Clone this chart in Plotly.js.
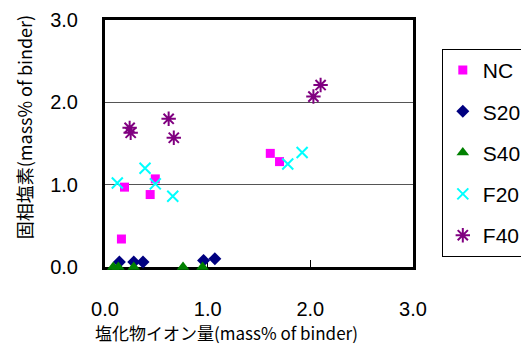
<!DOCTYPE html>
<html><head><meta charset="utf-8">
<script src="https://cdn.plot.ly/plotly-3.0.1.min.js"></script>
<style>html,body{margin:0;padding:0;background:#fff}</style>
</head><body><div id="chart" style="width:521px;height:349px"></div>
<script>
const seriesNames = ["NC", "S20", "S40", "F20", "F40"];
const ncX = [0.16, 0.19, 0.44, 0.49, 1.61, 1.70];
const ncY = [0.34, 0.97, 0.88, 1.07, 1.38, 1.28];
const s20X = [0.14, 0.28, 0.37, 0.96, 1.07];
const s20Y = [0.06, 0.06, 0.06, 0.08, 0.10];
const s40X = [0.08, 0.13, 0.28, 0.76, 0.95];
const s40Y = [0.0, 0.0, 0.0, 0.0, 0.0];
const f20X = [0.12, 0.39, 0.49, 0.66, 1.78, 1.92];
const f20Y = [1.02, 1.20, 1.01, 0.86, 1.25, 1.39];
const f40X = [0.24, 0.25, 0.62, 0.67, 2.03, 2.10];
const f40Y = [1.69, 1.63, 1.80, 1.57, 2.07, 2.21];
const tickVals = [0, 1, 2, 3];
const tickText = ["0.0", "1.0", "2.0", "3.0"];
const xTitle = "塩化物イオン量(mass% of binder)";
const yTitle = "固相塩素(mass% of binder)";

const xs = [ncX, s20X, s40X, f20X, f40X];
const ys = [ncY, s20Y, s40Y, f20Y, f40Y];
const styles = [
  {symbol: "square", color: "#FF00FF", size: 9},
  {symbol: "diamond", color: "#000080", size: 10},
  {symbol: "triangle-up", color: "#008000", size: 11},
  {symbol: "x-thin-open", color: "#00FFFF", size: 11, line: {width: 2, color: "#00FFFF"}},
  {symbol: "asterisk-open", color: "#800080", size: 12, line: {width: 2, color: "#800080"}}
];
const traces = seriesNames.map((n, i) => ({
  type: "scatter", mode: "markers", name: n, x: xs[i], y: ys[i],
  legendgroup: n, cliponaxis: false,
  marker: Object.assign({}, styles[i])
}));

const cjk = "'Noto Sans CJK JP', sans-serif";
const layout = {
  width: 521, height: 349,
  margin: {l: 105, r: 108, t: 20, b: 82},
  paper_bgcolor: "#fff", plot_bgcolor: "#fff",
  font: {family: "'Liberation Sans', Arial, sans-serif", size: 20, color: "#000"},
  showlegend: true,
  legend: {xref: "container", yref: "container", x: 0.848, xanchor: "left", y: 0.860, yanchor: "top",
    bordercolor: "#000", borderwidth: 1, bgcolor: "#fff", maxheight: 320,
    font: {size: 21}, tracegroupgap: 11, itemwidth: 30},
  xaxis: {range: [0, 3], tickvals: tickVals, ticktext: tickText, layer: "below traces",
    showline: true, mirror: true, linewidth: 3, linecolor: "#000",
    showgrid: false, zeroline: false, ticks: "inside", ticklen: 7, tickcolor: "#000",
    ticklabelstandoff: 22},
  yaxis: {range: [0, 3], tickvals: tickVals, ticktext: tickText, layer: "below traces",
    showline: true, mirror: true, linewidth: 3, linecolor: "#000",
    showgrid: true, gridcolor: "#555", gridwidth: 1, zeroline: false, ticks: "",
    ticklabelstandoff: 20},
  annotations: [
    {text: xTitle, xref: "paper", yref: "paper", x: 0.393, y: -0.267,
     xanchor: "center", yanchor: "middle", showarrow: false,
     font: {family: cjk, size: 17}},
    {text: yTitle, xref: "paper", yref: "paper", x: -0.262, y: 0.567,
     xanchor: "center", yanchor: "middle", showarrow: false, textangle: -90,
     font: {family: cjk, size: 18}}
  ]
};
Plotly.newPlot("chart", traces, layout, {displayModeBar: false, staticPlot: true});
</script></body></html>
